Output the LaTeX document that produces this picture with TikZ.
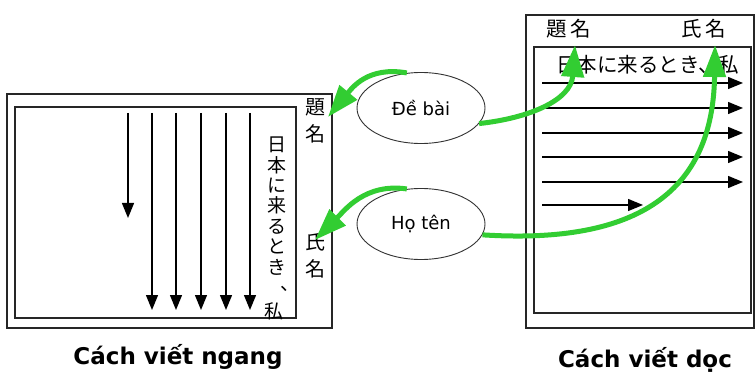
\documentclass[tikz,border=0pt]{standalone}
\usepackage{fontspec}
\setmainfont{DejaVu Sans}
\newfontfamily\jp{Noto Sans CJK JP}
\usetikzlibrary{arrows.meta,shapes.geometric}
\definecolor{grn}{RGB}{50,205,50}
\begin{document}
\begin{tikzpicture}[x=1pt,y=-1pt,
  box/.style={draw=black!85, line width=1.3pt},
  blackarrow/.style={draw=black, line width=1.3pt, -{Triangle[length=15pt,width=12pt]}},
  greenarrow/.style={draw=grn, line width=5pt, -{Triangle[length=32pt,width=22pt]}},
  bubble/.style={ellipse, draw=black!80, line width=0.9pt, minimum width=128pt,
    minimum height=71pt, inner sep=0pt, font=\fontsize{18}{21}\selectfont},
  jpv/.style={font=\jp\fontsize{19}{20.4}\selectfont, inner sep=0pt, align=center},
  jpl/.style={font=\jp\fontsize{20}{27}\selectfont, inner sep=0pt, align=center},
  jph/.style={font=\jp\fontsize{20.5}{24}\selectfont, inner sep=0pt},
  captext/.style={font=\bfseries\fontsize{23}{27}\selectfont, inner sep=0pt}]
\useasboundingbox (0,0) rectangle (755,374);
\fill[white] (0,0) rectangle (755,374);

% left page (horizontal sheet, vertical writing)
\draw[box] (7,94) rectangle (332,328);
\draw[box] (15,107) rectangle (296,318);
\draw[blackarrow] (128,113) -- (128,218);
\foreach \x in {152,176,201,226,250} \draw[blackarrow] (\x,113) -- (\x,310);
\node[jpv] (vtext) at (277,206) {日\\本\\に\\来\\る\\と\\き};
\node[jpv] (vcomma) at (290,290) {\smash{、}};
\node[jpv] (vme) at (274,311) {私};
\node[jpl] (ltitle) at (315,121) {題\\名};
\node[jpl] (lname) at (315,255) {氏\\名};

% right page (vertical sheet, horizontal writing)
\draw[box] (526,15) rectangle (754,328);
\draw[box] (534,47) rectangle (751,313);
\foreach \y in {83,108,133,157,182} \draw[blackarrow] (542,\y) -- (743,\y);
\draw[blackarrow] (542,205) -- (643,205);
\node[jph, anchor=west] (htext) at (556,65) {日本に来るとき、私};
\node[jph] (rtitle) at (569,29) {題\,名};
\node[jph] (rname) at (704,29) {氏\,名};

% bubbles
\node[bubble] (deb) at (421,108) {Đề bài};
\node[bubble] (hot) at (421,224) {Họ tên};

% captions
\node[captext] (c1) at (178,357) {Cách viết ngang};
\node[captext] (c2) at (645,360) {Cách viết dọc};

% green arrows
\coordinate (t1) at (328,117);
\coordinate (t2) at (575,45);
\coordinate (t3) at (315,240);
\coordinate (t4) at (715,45);
\draw[greenarrow] (deb.112) .. controls (368,66) and (352,88) .. (t1);
\draw[greenarrow] (deb.-15) .. controls (530,118) and (571,100) .. (t2);
\draw[greenarrow] (hot.112) .. controls (365,183) and (345,210) .. (t3);
\draw[greenarrow] (hot.-10) .. controls (640,245) and (713,190) .. (t4);
\end{tikzpicture}
\end{document}
